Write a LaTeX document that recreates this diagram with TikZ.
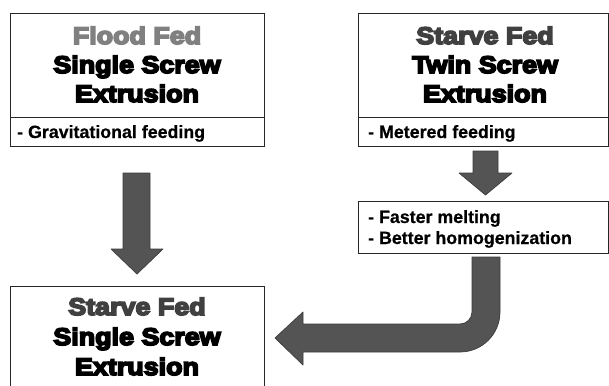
\documentclass[tikz,border=0pt]{standalone}
\usepackage{fontspec}
\setmainfont{Liberation Sans}
\newfontfamily\hfont[FakeBold=7,FakeStretch=1.12]{Liberation Sans Bold}
\newfontfamily\sfont[FakeBold=0.6]{Liberation Sans Bold}
\definecolor{floodgray}{HTML}{808080}
\definecolor{starvegray}{HTML}{404040}
\definecolor{arrowfill}{HTML}{545454}
\definecolor{arrowline}{HTML}{3C3C3C}
\definecolor{boxline}{HTML}{262626}
\begin{document}
\begin{tikzpicture}[x=1pt,y=-1pt,
  box/.style={draw=boxline, line width=1.4pt, inner sep=0, anchor=north west},
  head/.style={font=\hfont\fontsize{24}{29}\selectfont, anchor=base, inner sep=0},
  small/.style={font=\sfont\fontsize{17.8}{21}\selectfont, anchor=base west, inner sep=0},
  blockarrow/.style={fill=arrowfill, draw=arrowline, line width=0.7pt, line join=round}]
\useasboundingbox (0,0) rectangle (609,385);
\clip (0,0) rectangle (609,385);
% boxes
\node[box, minimum width=254.5pt, minimum height=104pt] (b1) at (9.5,13) {};
\node[box, minimum width=254.5pt, minimum height=29pt] (b1f) at (9.5,117) {};
\node[box, minimum width=249.5pt, minimum height=104pt] (b2) at (358,13) {};
\node[box, minimum width=249.5pt, minimum height=29pt] (b2f) at (358,117) {};
\node[box, minimum width=249.5pt, minimum height=52pt] (b4) at (358,201) {};
\node[box, minimum width=254.5pt, minimum height=130pt] (b3) at (9.5,286) {};
% header texts
\node[head, text=floodgray] (t1a) at (137,44) {Flood Fed};
\node[head] (t1b) at (137,73) {Single Screw};
\node[head] (t1c) at (137,102) {Extrusion};
\node[head, text=starvegray] (t2a) at (485,44) {Starve Fed};
\node[head] (t2b) at (485,73) {Twin Screw};
\node[head] (t2c) at (485,102) {Extrusion};
\node[head, text=starvegray] (t3a) at (137,315) {Starve Fed};
\node[head] (t3b) at (137,345) {Single Screw};
\node[head] (t3c) at (137,375) {Extrusion};
% small texts
\node[small] (s1) at (17,138) {- Gravitational feeding};
\node[small] (s2) at (368,138) {- Metered feeding};
\node[small] (s3) at (368,223) {- Faster melting};
\node[small] (s4) at (368,244) {- Better homogenization};
% block arrows
\draw[blockarrow] (123,173) -- (150,173) -- (150,249) -- (163,249) -- (137,274) -- (111,249) -- (123,249) -- cycle;
\draw[blockarrow] (473,151) -- (498,151) -- (498,173) -- (512,173) -- (485.5,195) -- (459,173) -- (473,173) -- cycle;
\draw[blockarrow] (472,257) -- (500,257) -- (500,312) arc (0:90:40) -- (303,352) -- (303,365) -- (275,338) -- (303,312) -- (303,324) -- (460,324) arc (90:0:12) -- cycle;
\end{tikzpicture}
\end{document}
